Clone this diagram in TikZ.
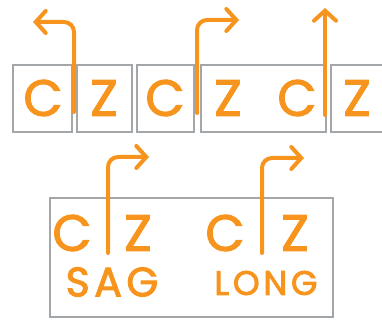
\documentclass[tikz,border=0pt]{standalone}
\usepackage{fontspec}
\usepackage{tikz}
\usetikzlibrary{arrows.meta}
\newfontfamily\czFont{Poppins}[FakeBold=2]
\newfontfamily\czWide{Poppins}[FakeBold=2.4, LetterSpace=11]
\definecolor{czOrange}{HTML}{F7941D}
\definecolor{czGray}{HTML}{A4A7AA}
\newcommand{\bigLetter}{\czFont\fontsize{51}{51}\selectfont}

\begin{document}
\begin{tikzpicture}[x=1pt, y=-1pt, line cap=round]
        \tikzset{
           cell/.style={
                        rectangle,
                        draw=czGray,
                        line width=2.5pt,
                        fill=none,
                        inner sep=0pt,
                        minimum height=67pt
                       },
           letter/.style={
                        text=czOrange,
                        inner sep=0pt,
                        font=\bigLetter
                       },
           word/.style={
                        text=czOrange,
                        inner sep=0pt
                       },
           split/.style={
                        draw=czOrange,
                        line width=4pt,
                        rounded corners=10pt,
                        -{Straight Barb[length=10pt, width=22pt, line cap=round]}
                       },
                 };
        \useasboundingbox (0,0) rectangle (382,320);
    %--------------------
        \node[cell, minimum width=59pt]  (box1) at (42.5,98.5)  {};
        \node[cell, minimum width=55pt]  (box2) at (104.5,98.5) {};
        \node[cell, minimum width=57pt]  (box3) at (165.5,98.5) {};
        \node[cell, minimum width=125pt] (box4) at (263.5,98.5) {};
        \node[cell, minimum width=59pt]  (box5) at (360.5,98.5) {};
        \node[cell, minimum width=283pt, minimum height=119pt] (pair) at (191.5,257.5) {};

        \node[letter] (c1) at (43,98)  {C};
        \node[letter] (z2) at (104,98) {Z};
        \node[letter] (c3) at (165,98) {C};
        \node[letter] (z4) at (228,98) {Z};
        \node[letter] (c4) at (297,98) {C};
        \node[letter] (z5) at (357,98) {Z};

        \node[letter] (sagC)  at (72,233)  {C};
        \node[letter] (sagZ)  at (138,233) {Z};
        \node[letter] (longC) at (225,233) {C};
        \node[letter] (longZ) at (295,233) {Z};

        \node[word, font=\czWide\fontsize{41}{41}\selectfont] (sag)  at (112,282) {SAG};
        \node[word, font=\czWide\fontsize{34}{34}\selectfont] (long) at (266,283) {LONG};
    %--------------------
        \coordinate (cutA)  at (74,112);   \coordinate (outA)  at (33,22);
        \coordinate (cutB)  at (197,113);  \coordinate (outB)  at (239,20);
        \coordinate (cutC)  at (325,115);  \coordinate (outC)  at (325,8);
        \coordinate (cutD)  at (108,253);  \coordinate (outD)  at (149,157);
        \coordinate (cutE)  at (262,253);  \coordinate (outE)  at (304,158);

        \draw[split] (cutA) |- (outA);
        \draw[split] (cutB) |- (outB);
        \draw[split] (cutC) -- (outC);
        \draw[split] (cutD) |- (outD);
        \draw[split] (cutE) |- (outE);
    \end{tikzpicture}
\end{document}
